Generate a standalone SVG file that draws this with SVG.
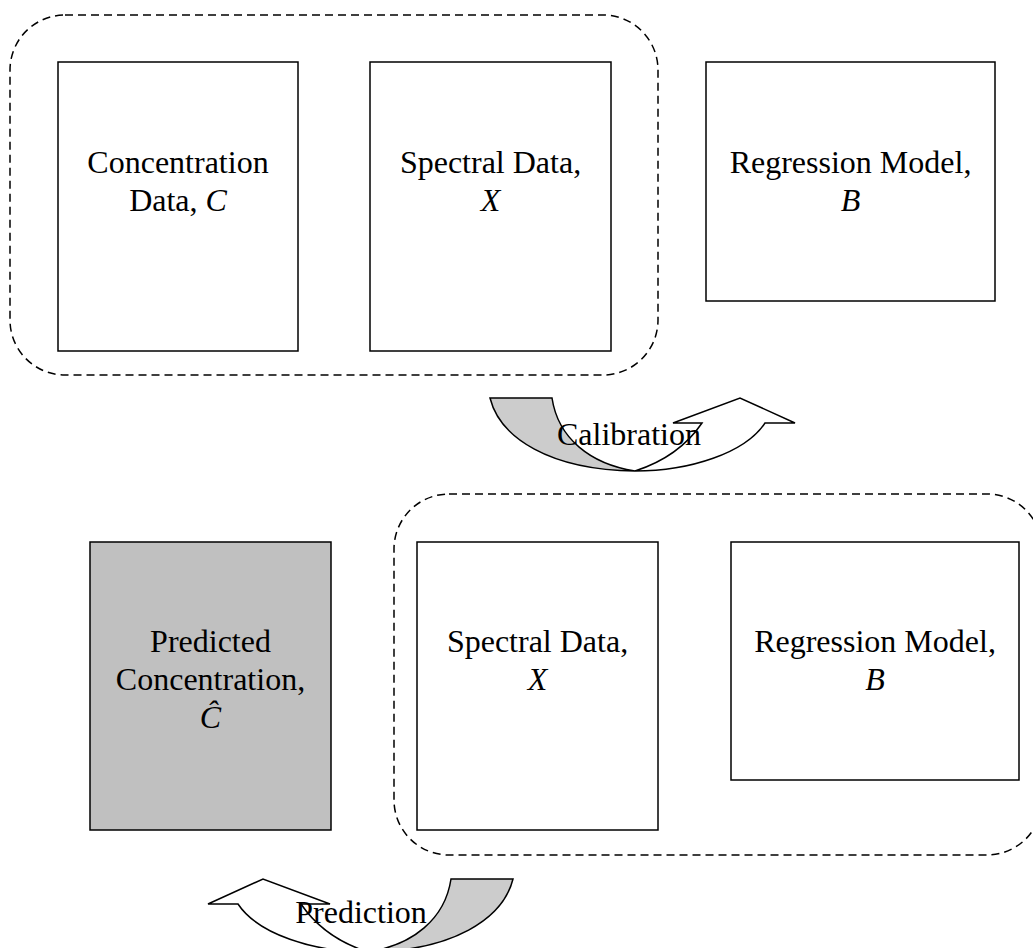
<svg xmlns="http://www.w3.org/2000/svg" width="1033" height="948" viewBox="0 0 1033 948">
  <defs>
    <style>
      .box { fill: #ffffff; stroke: #000000; stroke-width: 1.5; }
      .box.result { fill: #c0c0c0; }
      .group { fill: none; stroke: #000000; stroke-width: 1.5; stroke-dasharray: 8 5; }
      .lbl { font-family: "Liberation Serif", "Times New Roman", serif; font-size: 32px; fill: #000000; text-anchor: middle; }
      .var { font-style: italic; }
      .tail { fill: #cccccc; stroke: #000000; stroke-width: 1.5; stroke-linejoin: miter; }
      .body { fill: #ffffff; stroke: #000000; stroke-width: 1.5; stroke-linejoin: miter; }
    </style>
    <!-- curved "U-turn" arrow: shaded tail on the left, open head on the right -->
    <g id="uturn">
      <path class="tail" d="M0,0 L62,0 C68,40 100,66 145,73 C60,72 10,40 0,0 Z"/>
      <path class="body" d="M145,73 C200,73 255,55 275,25 L305,25 L250,0 L183,25 L212,25 C195,50 170,65 145,73 Z"/>
    </g>
  </defs>

  <rect width="1033" height="948" fill="#ffffff"/>

  <!-- calibration stage inputs -->
  <g id="calibration-set">
    <rect class="group" x="10" y="15" width="648" height="360" rx="55" ry="55"/>
  </g>

  <g id="conc-data">
    <rect class="box" x="58" y="62" width="240" height="289"/>
    <text class="lbl" x="178" y="173">Concentration</text>
    <text class="lbl" x="178" y="211">Data, <tspan class="var">C</tspan></text>
  </g>

  <g id="spectral-cal">
    <rect class="box" x="370" y="62" width="241" height="289"/>
    <text class="lbl" x="490.5" y="173">Spectral Data,</text>
    <text class="lbl var" x="490.5" y="211">X</text>
  </g>

  <g id="model-cal">
    <rect class="box" x="706" y="62" width="289" height="239"/>
    <text class="lbl" x="850.5" y="173">Regression Model,</text>
    <text class="lbl var" x="850.5" y="211">B</text>
  </g>

  <!-- prediction stage inputs -->
  <g id="prediction-set">
    <rect class="group" x="394" y="494" width="648" height="361" rx="55" ry="55"/>
  </g>

  <g id="predicted-conc">
    <rect class="box result" x="90" y="542" width="241" height="288"/>
    <text class="lbl" x="210.5" y="652">Predicted</text>
    <text class="lbl" x="210.5" y="690">Concentration,</text>
    <text class="lbl var" x="210.5" y="728">Ĉ</text>
  </g>

  <g id="spectral-pred">
    <rect class="box" x="417" y="542" width="241" height="288"/>
    <text class="lbl" x="537.5" y="652">Spectral Data,</text>
    <text class="lbl var" x="537.5" y="690">X</text>
  </g>

  <g id="model-pred">
    <rect class="box" x="731" y="542" width="288" height="238"/>
    <text class="lbl" x="875" y="652">Regression Model,</text>
    <text class="lbl var" x="875" y="690">B</text>
  </g>

  <!-- stage arrows -->
  <g id="connectors">
    <g id="calibration-arrow">
      <use href="#uturn" transform="translate(490,398)"/>
      <text class="lbl" x="629" y="445">Calibration</text>
    </g>
    <g id="prediction-arrow">
      <use href="#uturn" transform="translate(513,879) scale(-1,1)"/>
      <text class="lbl" x="361" y="923">Prediction</text>
    </g>
  </g>
</svg>
